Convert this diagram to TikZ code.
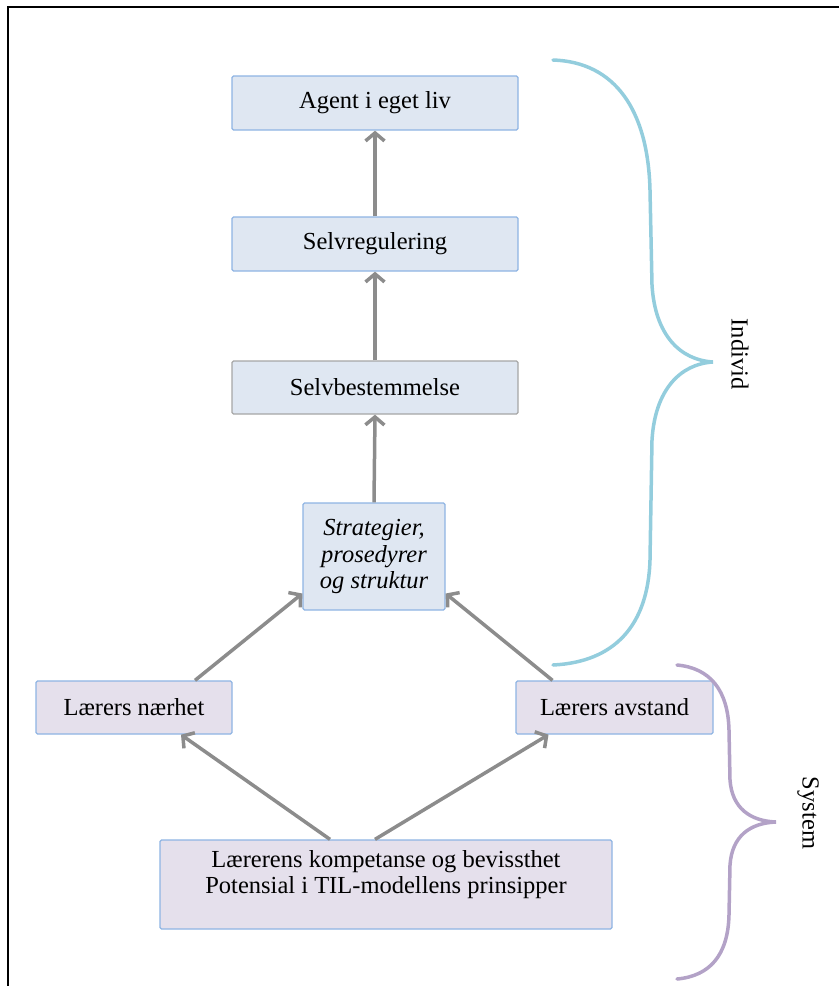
\documentclass[tikz,border=0pt]{standalone}
\usepackage{fontspec}
\setmainfont{Liberation Serif}
\usetikzlibrary{arrows.meta}
\definecolor{bluefill}{HTML}{DFE7F2}
\definecolor{blueline}{HTML}{8EB4E3}
\definecolor{purplefill}{HTML}{E5E0EC}
\definecolor{grayline}{HTML}{A6A6A6}
\definecolor{arrowgray}{HTML}{8C8C8C}
\definecolor{braceblue}{HTML}{93CDDD}
\definecolor{bracepurple}{HTML}{B3A2C7}
\begin{document}
\begin{tikzpicture}[x=1pt,y=-1pt,
  box/.style={draw=blueline, line width=1.3pt, rounded corners=1.5pt, fill=bluefill,
    inner sep=0pt, align=center, font=\fontsize{24.5}{26}\selectfont},
  pbox/.style={box, fill=purplefill},
  arr/.style={draw=arrowgray, line width=3.5pt,
    -{Straight Barb[length=8pt,width=19pt,line width=3.5pt]}},
  brace/.style={line width=3.5pt, line cap=round},
  bracelabel/.style={rotate=-90, font=\fontsize{24.5}{26}\selectfont}
]
\useasboundingbox (0,0) rectangle (839,986);
% frame
\draw[line width=2pt, black] (8,986) -- (8,7) -- (839,7);

% nodes
\node[box, minimum width=286pt, minimum height=54pt] (agent) at (375,103) {Agent i eget liv};
\node[box, minimum width=286pt, minimum height=54pt] (selvreg) at (375,244) {Selvregulering};
\node[box, draw=grayline, minimum width=286pt, minimum height=53pt] (selvbest) at (375,387.5) {Selvbestemmelse};
\node[box, minimum width=142pt, minimum height=107pt, font=\fontsize{24.5}{26.5}\selectfont\itshape] (strat) at (374,556.5) {Strategier,\\prosedyrer\\og struktur};
\node[pbox, minimum width=196pt, minimum height=53pt] (naer) at (134,707.5) {Lærers nærhet};
\node[pbox, minimum width=197pt, minimum height=53pt] (avst) at (614.5,707.5) {Lærers avstand};
\node[pbox, minimum width=452pt, minimum height=89pt] (base) at (386,884.5) {Lærerens kompetanse og bevissthet\\Potensial i TIL-modellens prinsipper\\ };

% arrows
\draw[arr] (selvreg.north) -- (agent.south);
\draw[arr] (selvbest.north) -- (selvreg.south);
\draw[arr] (strat.north) -- (selvbest.south);
\draw[arr] ([xshift=61]naer.north) -- ([yshift=-37]strat.west);
\draw[arr] ([xshift=-62]avst.north) -- ([yshift=-37]strat.east);
\draw[arr] ([xshift=-56]base.north) -- ([xshift=47]naer.south);
\draw[arr] ([xshift=-11]base.north) -- ([xshift=-66]avst.south);

% braces
\draw[brace, braceblue] (553,60) .. controls (615,62) and (648,110) .. (650,190)
  -- (652,285) .. controls (655,335) and (680,360) .. (713,362)
  .. controls (680,364) and (655,390) .. (652,440)
  -- (650,560) .. controls (648,625) and (615,662) .. (553,665);
\node[bracelabel] (individ) at (740,354) {Individ};

\draw[brace, bracepurple] (677,665) .. controls (710,668) and (728,690) .. (729,730)
  -- (730,780) .. controls (732,808) and (750,821) .. (776,822)
  .. controls (750,823) and (732,836) .. (730,865)
  -- (729,915) .. controls (728,955) and (710,976) .. (677,979);
\node[bracelabel] (system) at (808,813) {System};
\end{tikzpicture}
\end{document}
